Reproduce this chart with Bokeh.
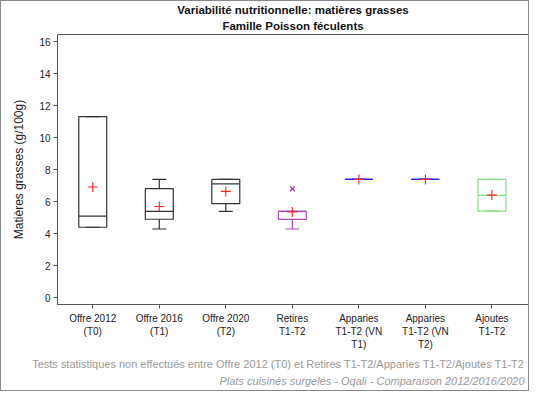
from bokeh.plotting import figure
from bokeh.models import Title, Range1d, FixedTicker, ColumnDataSource
from bokeh.embed import file_html
from bokeh.resources import INLINE

# ---- data ----
categories = ["Offre 2012\n(T0)", "Offre 2016\n(T1)", "Offre 2020\n(T2)", "Retires\nT1-T2",
              "Apparies\nT1-T2 (VN\nT1)", "Apparies\nT1-T2 (VN\nT2)", "Ajoutes\nT1-T2"]
q1 = [4.40, 4.90, 5.88, 4.89, 7.39, 7.39, 5.41]
median = [5.09, 5.39, 7.11, 5.39, 7.39, 7.39, 6.39]
q3 = [11.32, 6.82, 7.39, 5.39, 7.39, 7.39, 7.39]
whisker_low = [4.40, 4.29, 5.39, 4.29, 7.39, 7.39, 5.41]
whisker_high = [11.32, 7.39, 7.39, 5.39, 7.39, 7.39, 7.39]
means = [6.92, 5.70, 6.64, 5.35, 7.39, 7.39, 6.41]
box_colors = ["#333333", "#333333", "#333333", "#b048b8", "#2020ff", "#2020ff", "#88dd88"]
outlier_cat = [3]
outlier_val = [6.80]
outlier_color = ["#9a3aa8"]
y_ticks = [0, 2, 4, 6, 8, 10, 12, 14, 16]

FONT = "Liberation Sans"
xs = list(range(len(categories)))
bw = 0.42

p = figure(width=529, height=391, output_backend="svg", toolbar_location=None,
           x_range=Range1d(-0.53, 6.55), y_range=Range1d(-0.43, 16.45),
           min_border_left=56, min_border_right=2, min_border_top=32, min_border_bottom=88,
           background_fill_color="white", border_fill_color="white")
p.styles = {"border": "1px solid #8a8a8a"}

p.xgrid.visible = False
p.ygrid.visible = False
p.outline_line_color = "#555555"
p.outline_line_width = 1

# boxes
src = ColumnDataSource(dict(x=xs, q1=q1, med=median, q3=q3, lo=whisker_low, hi=whisker_high,
                            mean=means, c=box_colors,
                            cl=[x - bw / 4 for x in xs], cr=[x + bw / 4 for x in xs],
                            bl=[x - bw / 2 for x in xs], br=[x + bw / 2 for x in xs]))
p.segment(x0="x", y0="q3", x1="x", y1="hi", line_color="c", line_width=1.2, source=src)
p.segment(x0="x", y0="q1", x1="x", y1="lo", line_color="c", line_width=1.2, source=src)
p.segment(x0="cl", y0="hi", x1="cr", y1="hi", line_color="c", line_width=1.2, source=src)
p.segment(x0="cl", y0="lo", x1="cr", y1="lo", line_color="c", line_width=1.2, source=src)
p.quad(left="bl", right="br", bottom="q1", top="q3", fill_color=None, line_color="c",
       line_width=1.2, source=src)
p.segment(x0="bl", y0="med", x1="br", y1="med", line_color="c", line_width=1.2, source=src)
p.scatter(x="x", y="mean", marker="cross", size=10, line_color="#ff2020", line_width=1.1, source=src)
p.scatter(x=outlier_cat, y=outlier_val, marker="x", size=7, line_color=outlier_color[0], line_width=1.3)

# axes
p.xaxis.ticker = FixedTicker(ticks=xs)
p.xaxis.major_label_overrides = {i: c for i, c in enumerate(categories)}
p.yaxis.ticker = FixedTicker(ticks=y_ticks)
for ax in (p.xaxis[0], p.yaxis[0]):
    ax.axis_line_color = "#555555"
    ax.major_tick_line_color = "#555555"
    ax.major_tick_out = 4
    ax.major_tick_in = 0
    ax.minor_tick_line_color = None
    ax.major_label_text_font = FONT
    ax.major_label_text_font_size = "10px"
    ax.major_label_text_color = "#222222"
    ax.axis_label_text_font = FONT
    ax.axis_label_text_font_style = "normal"
    ax.axis_label_text_font_size = "12px"
    ax.axis_label_text_color = "#222222"
p.xaxis.major_label_standoff = 4
p.yaxis.major_label_standoff = 3
p.yaxis.axis_label = "Matières grasses (g/100g)"
p.yaxis.axis_label_standoff = 10

# titles
t2 = Title(text="Famille Poisson féculents", align="center", text_font=FONT,
           text_font_size="11.5px", text_font_style="bold", text_color="#111111", offset=-22,
           standoff=5)
t1 = Title(text="Variabilité nutritionnelle: matières grasses", align="center", text_font=FONT,
           text_font_size="11.5px", text_font_style="bold", text_color="#111111", offset=-22,
           standoff=0)
p.add_layout(t2, "above")
p.add_layout(t1, "above")

f1 = Title(text="Tests statistiques non effectués entre Offre 2012 (T0) et Retires T1-T2/Apparies T1-T2/Ajoutes T1-T2",
           align="right", text_font=FONT, text_font_size="11px", text_font_style="normal",
           text_color="#9a9a9a", standoff=6, offset=4)
f2 = Title(text="Plats cuisinés surgelés - Oqali - Comparaison 2012/2016/2020",
           align="right", text_font=FONT, text_font_size="11px", text_font_style="italic",
           text_color="#9a9a9a", standoff=1, offset=4)
p.add_layout(f1, "below")
p.add_layout(f2, "below")

open("out.html", "w").write(file_html(p, INLINE))
